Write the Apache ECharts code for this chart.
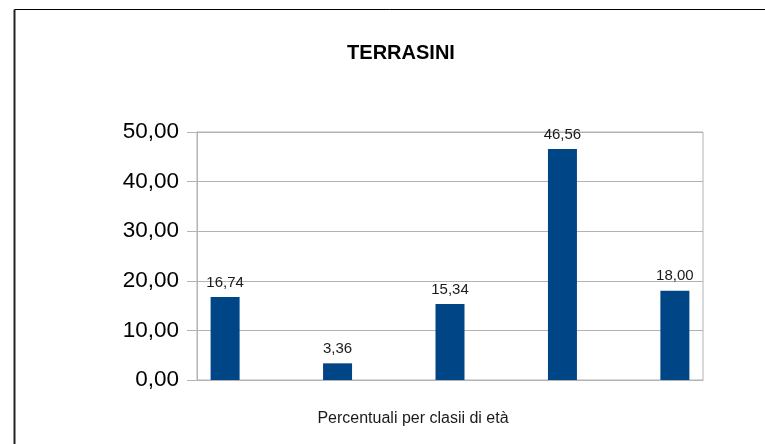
<!DOCTYPE html>
<html>
<head>
<meta charset="utf-8">
<script src="https://cdn.jsdelivr.net/npm/echarts@6/dist/echarts.min.js"></script>
<style>
  html, body { margin: 0; padding: 0; background: #ffffff; }
  #chart { width: 765px; height: 444px; }
</style>
</head>
<body>
<div id="chart"></div>
<script>
// Percentage of residents per age class
const chartTitle = 'TERRASINI';
const axisTitle = 'Percentuali per clasii di età';
const percentValues = [16.74, 3.36, 15.34, 46.56, 18.00];
const yTicks = [0, 10, 20, 30, 40, 50];

const fmt = v => Number(v).toFixed(2).replace('.', ',');
const FONT = '"Liberation Sans", Arial, sans-serif';
const GRID_GRAY = '#b3b3b3';

const chart = echarts.init(document.getElementById('chart'), null, { renderer: 'canvas' });

chart.setOption({
  backgroundColor: '#ffffff',
  animation: false,
  textStyle: { fontFamily: FONT },
  title: [
    {
      text: chartTitle,
      left: 396, top: 38, textAlign: 'center',
      textStyle: { fontFamily: FONT, fontSize: 20, fontWeight: 'bold', color: '#000000' }
    },
    {
      text: axisTitle,
      left: 408, top: 406, textAlign: 'center',
      textStyle: { fontFamily: FONT, fontSize: 16, fontWeight: 'normal', color: '#1a1a1a' }
    }
  ],
  graphic: [
    { type: 'line', shape: { x1: 14.5, y1: 9.5, x2: 765, y2: 9.5 }, style: { stroke: '#000000', lineWidth: 1 } },
    { type: 'line', shape: { x1: 14.5, y1: 9.5, x2: 14.5, y2: 444 }, style: { stroke: '#222222', lineWidth: 2 } }
  ],
  grid: {
    left: 197, right: 62, top: 132, bottom: 64,
    show: true, borderColor: GRID_GRAY, borderWidth: 1, backgroundColor: 'transparent'
  },
  xAxis: {
    type: 'value',
    min: -0.25, max: 4.25,
    axisLine: { show: true, onZero: false, lineStyle: { color: GRID_GRAY, width: 1 } },
    axisTick: { show: false },
    axisLabel: { show: false },
    splitLine: { show: false }
  },
  yAxis: {
    type: 'value',
    position: 'left',
    min: yTicks[0], max: yTicks[yTicks.length - 1], interval: yTicks[1] - yTicks[0],
    axisLine: { show: true, onZero: false, lineStyle: { color: GRID_GRAY, width: 1 } },
    axisTick: { show: true, inside: false, length: 10, lineStyle: { color: GRID_GRAY, width: 1 } },
    axisLabel: { formatter: fmt, fontSize: 22.5, color: '#000000', margin: 18, fontFamily: FONT },
    splitLine: { show: true, lineStyle: { color: GRID_GRAY, width: 1 } }
  },
  series: [{
    type: 'bar',
    data: percentValues.map((v, i) => [i, v]),
    barWidth: 29,
    itemStyle: { color: '#004586' },
    label: {
      show: true, position: 'top', distance: 7,
      formatter: p => fmt(p.value[1]),
      fontSize: 15, color: '#1a1a1a', fontFamily: FONT
    }
  }]
});
</script>
</body>
</html>
